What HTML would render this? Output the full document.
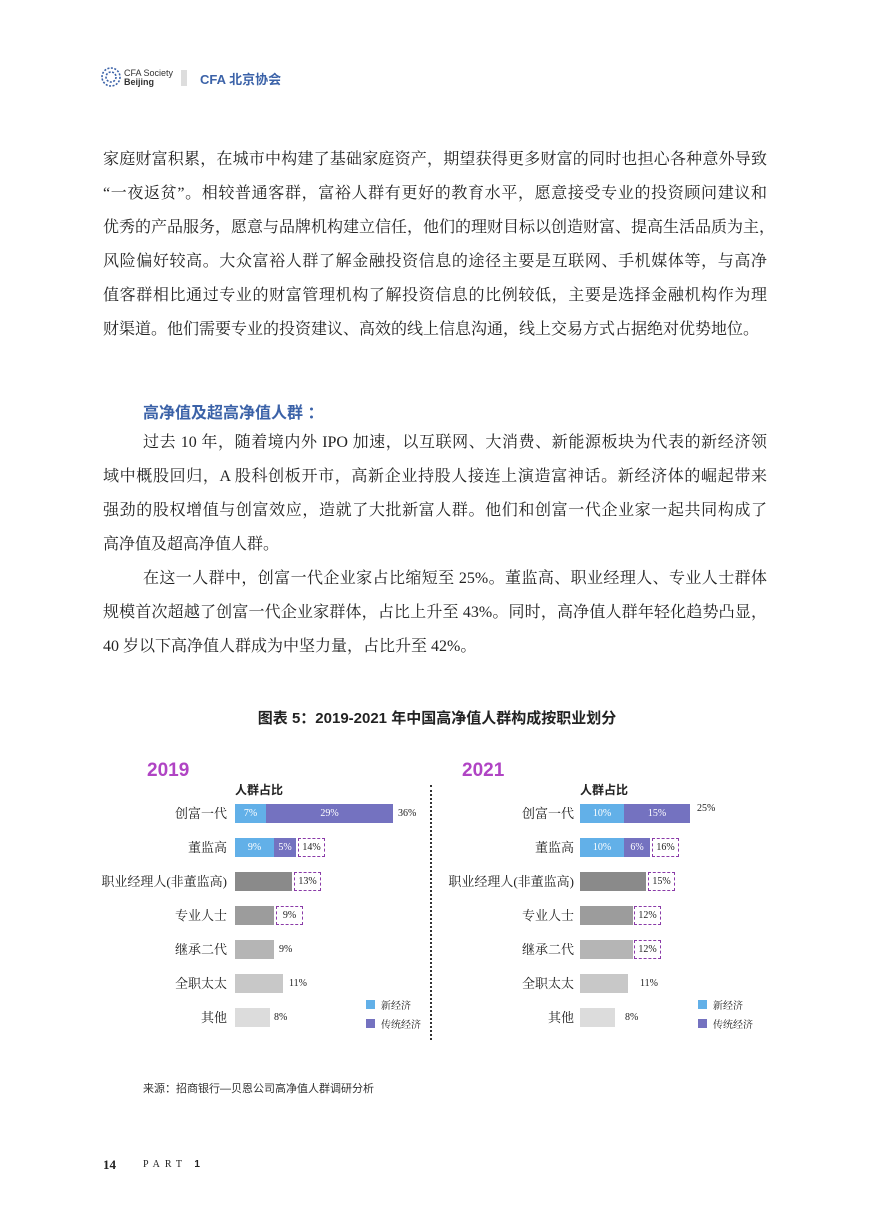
<!DOCTYPE html>
<html><head><meta charset="utf-8">
<style>
body{margin:0;background:#fff;}
#p{position:relative;width:874px;height:1228px;overflow:hidden;font-family:"Liberation Serif","Noto Serif CJK SC",serif;color:#222;}
.a{position:absolute;white-space:nowrap;}
.ln{position:absolute;left:103px;width:664px;font-size:16px;line-height:20px;text-align:justify;text-align-last:justify;white-space:nowrap;}
.ln.l{text-align-last:left;}
.sans{font-family:"Liberation Sans","Noto Sans CJK SC",sans-serif;}
.lab{position:absolute;font-size:13px;text-align:right;width:160px;font-family:"Liberation Serif","Noto Serif CJK SC",serif;line-height:19px;}
.bar{position:absolute;height:19px;}
.v{position:absolute;font-size:10px;line-height:19px;font-family:"Liberation Serif",serif;}
.in{color:#fff;text-align:center;}
.box{position:absolute;height:17px;border:1px dashed #8a3aa8;font-size:10px;line-height:17px;text-align:center;font-family:"Liberation Serif",serif;}
.lg{position:absolute;font-size:10px;font-family:"Noto Serif CJK SC","Noto Sans CJK SC",serif;font-style:normal;}
</style></head><body><div id="p">
<svg class="a" style="left:100px;top:66px" width="22" height="22" viewBox="0 0 22 22"><g fill="none" stroke="#3b62a8" stroke-width="1.6"><circle cx="11" cy="11" r="9" stroke-dasharray="2 1.5"/><circle cx="11" cy="11" r="5" stroke-dasharray="2 1.5"/></g></svg>
<div class="a sans" style="left:124px;top:69px;font-size:9px;line-height:9px;color:#333;">CFA Society<br><b>Beijing</b></div>
<div class="a" style="left:181px;top:70px;width:6px;height:16px;background:#ddd;"></div>
<div class="a sans" style="left:200px;top:69px;font-size:13px;font-weight:bold;color:#3b62a8;">CFA 北京协会</div>
<div class="ln" style="top:150px">家庭财富积累，在城市中构建了基础家庭资产，期望获得更多财富的同时也担心各种意外导致</div>
<div class="ln" style="top:184px">“一夜返贫”。相较普通客群，富裕人群有更好的教育水平，愿意接受专业的投资顾问建议和</div>
<div class="ln" style="top:218px">优秀的产品服务，愿意与品牌机构建立信任，他们的理财目标以创造财富、提高生活品质为主，</div>
<div class="ln" style="top:252px">风险偏好较高。大众富裕人群了解金融投资信息的途径主要是互联网、手机媒体等，与高净</div>
<div class="ln" style="top:286px">值客群相比通过专业的财富管理机构了解投资信息的比例较低，主要是选择金融机构作为理</div>
<div class="ln l" style="top:320px">财渠道。他们需要专业的投资建议、高效的线上信息沟通，线上交易方式占据绝对优势地位。</div>
<div class="a sans" style="left:143px;top:399px;font-size:16px;font-weight:bold;color:#3b62a8;">高净值及超高净值人群 ：</div>
<div class="ln" style="top:433px;left:143px;width:624px">过去 10 年，随着境内外 IPO 加速，以互联网、大消费、新能源板块为代表的新经济领</div>
<div class="ln" style="top:467px">域中概股回归，A 股科创板开市，高新企业持股人接连上演造富神话。新经济体的崛起带来</div>
<div class="ln" style="top:501px">强劲的股权增值与创富效应，造就了大批新富人群。他们和创富一代企业家一起共同构成了</div>
<div class="ln l" style="top:535px">高净值及超高净值人群。</div>
<div class="ln" style="top:569px;left:143px;width:624px">在这一人群中，创富一代企业家占比缩短至 25%。董监高、职业经理人、专业人士群体</div>
<div class="ln" style="top:603px">规模首次超越了创富一代企业家群体，占比上升至 43%。同时，高净值人群年轻化趋势凸显，</div>
<div class="ln l" style="top:637px">40 岁以下高净值人群成为中坚力量，占比升至 42%。</div>
<div class="a sans" style="left:0;width:874px;text-align:center;top:707px;font-size:15px;font-weight:bold;">图表 5：2019-2021 年中国高净值人群构成按职业划分</div>
<div class="a sans" style="left:147px;top:760px;font-size:19px;font-weight:bold;color:#b044c4;">2019</div>
<div class="a sans" style="left:235px;top:781px;font-size:12px;font-weight:bold;">人群占比</div>
<div class="lab" style="left:67px;top:804px">创富一代</div>
<div class="lab" style="left:67px;top:838px">董监高</div>
<div class="lab" style="left:67px;top:872px">职业经理人(非董监高)</div>
<div class="lab" style="left:67px;top:906px">专业人士</div>
<div class="lab" style="left:67px;top:940px">继承二代</div>
<div class="lab" style="left:67px;top:974px">全职太太</div>
<div class="lab" style="left:67px;top:1008px">其他</div>
<div class="bar v in" style="left:235px;width:31px;top:804px;background:#62b0e8">7%</div>
<div class="bar v in" style="left:266px;width:127px;top:804px;background:#7472c0">29%</div>
<div class="v" style="left:398px;top:804px">36%</div>
<div class="bar v in" style="left:235px;width:39px;top:838px;background:#62b0e8">9%</div>
<div class="bar v in" style="left:274px;width:22px;top:838px;background:#7472c0">5%</div>
<div class="box" style="left:298px;width:25px;top:838px">14%</div>
<div class="bar" style="left:235px;width:57px;top:872px;background:#8a8a8a"></div>
<div class="box" style="left:294px;width:25px;top:872px">13%</div>
<div class="bar" style="left:235px;width:39px;top:906px;background:#9c9c9c"></div>
<div class="box" style="left:276px;width:25px;top:906px">9%</div>
<div class="bar" style="left:235px;width:39px;top:940px;background:#b5b5b5"></div>
<div class="v" style="left:279px;top:940px">9%</div>
<div class="bar" style="left:235px;width:48px;top:974px;background:#c8c8c8"></div>
<div class="v" style="left:289px;top:974px">11%</div>
<div class="bar" style="left:235px;width:35px;top:1008px;background:#dcdcdc"></div>
<div class="v" style="left:274px;top:1008px">8%</div>
<div class="a" style="left:366px;top:1000px;width:9px;height:9px;background:#62b0e8"></div>
<div class="lg" style="left:381px;top:997px;">新经济</div>
<div class="a" style="left:366px;top:1019px;width:9px;height:9px;background:#7472c0"></div>
<div class="lg" style="left:381px;top:1016px;">传统经济</div>
<div class="a" style="left:430px;top:785px;height:255px;border-left:2px dotted #333"></div>
<div class="a sans" style="left:462px;top:760px;font-size:19px;font-weight:bold;color:#b044c4;">2021</div>
<div class="a sans" style="left:580px;top:781px;font-size:12px;font-weight:bold;">人群占比</div>
<div class="lab" style="left:414px;top:804px">创富一代</div>
<div class="lab" style="left:414px;top:838px">董监高</div>
<div class="lab" style="left:414px;top:872px">职业经理人(非董监高)</div>
<div class="lab" style="left:414px;top:906px">专业人士</div>
<div class="lab" style="left:414px;top:940px">继承二代</div>
<div class="lab" style="left:414px;top:974px">全职太太</div>
<div class="lab" style="left:414px;top:1008px">其他</div>
<div class="bar v in" style="left:580px;width:44px;top:804px;background:#62b0e8">10%</div>
<div class="bar v in" style="left:624px;width:66px;top:804px;background:#7472c0">15%</div>
<div class="v" style="left:697px;top:799px">25%</div>
<div class="bar v in" style="left:580px;width:44px;top:838px;background:#62b0e8">10%</div>
<div class="bar v in" style="left:624px;width:26px;top:838px;background:#7472c0">6%</div>
<div class="box" style="left:652px;width:25px;top:838px">16%</div>
<div class="bar" style="left:580px;width:66px;top:872px;background:#8a8a8a"></div>
<div class="box" style="left:648px;width:25px;top:872px">15%</div>
<div class="bar" style="left:580px;width:53px;top:906px;background:#9c9c9c"></div>
<div class="box" style="left:634px;width:25px;top:906px">12%</div>
<div class="bar" style="left:580px;width:53px;top:940px;background:#b5b5b5"></div>
<div class="box" style="left:634px;width:25px;top:940px">12%</div>
<div class="bar" style="left:580px;width:48px;top:974px;background:#c8c8c8"></div>
<div class="v" style="left:640px;top:974px">11%</div>
<div class="bar" style="left:580px;width:35px;top:1008px;background:#dcdcdc"></div>
<div class="v" style="left:625px;top:1008px">8%</div>
<div class="a" style="left:698px;top:1000px;width:9px;height:9px;background:#62b0e8"></div>
<div class="lg" style="left:713px;top:997px;">新经济</div>
<div class="a" style="left:698px;top:1019px;width:9px;height:9px;background:#7472c0"></div>
<div class="lg" style="left:713px;top:1016px;">传统经济</div>
<div class="a sans" style="left:143px;top:1080px;font-size:11px;color:#333;">来源：招商银行—贝恩公司高净值人群调研分析</div>
<div class="a" style="left:103px;top:1157px;font-size:13px;font-weight:bold;">14</div>
<div class="a" style="left:143px;top:1159px;font-size:10px;letter-spacing:5px;">PART <b class="sans">1</b></div>
</div></body></html>
